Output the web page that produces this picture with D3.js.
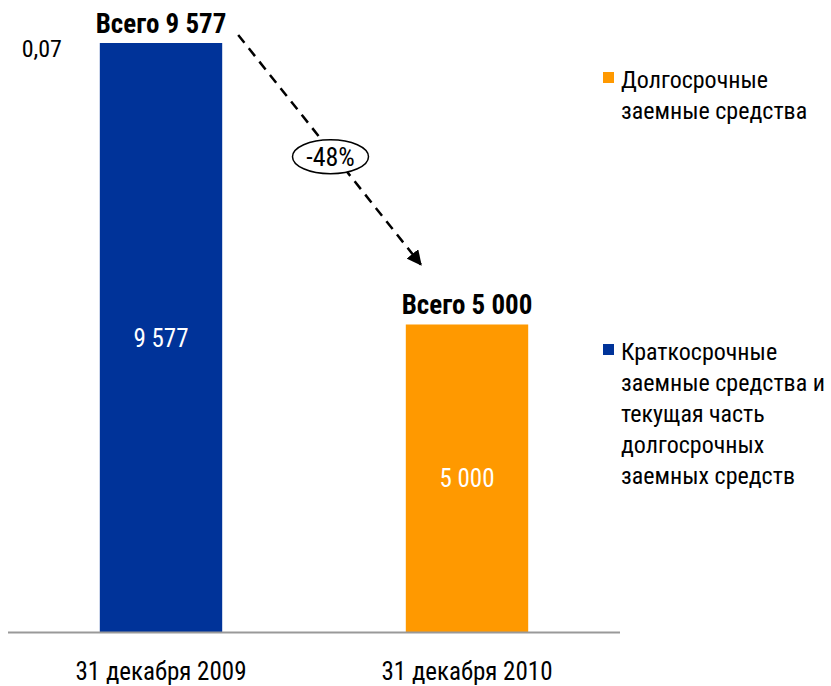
<!DOCTYPE html>
<html>
<head>
<meta charset="utf-8">
<script src="https://cdn.jsdelivr.net/npm/d3@7.9.0/dist/d3.min.js"></script>
<style>
  body { margin: 0; background: #fff; }
  svg text { font-family: "Liberation Sans Narrow", "Arial Narrow", "Roboto Condensed", "Liberation Sans", sans-serif; fill: #000; }
</style>
</head>
<body>
<svg id="chart" width="831" height="686"></svg>
<script>
const categories = ['31 декабря 2009', '31 декабря 2010'];
const shortTerm = [9577, 0];
const longTerm = [0.07, 5000];
const totalLabels = ['Всего 9 577', 'Всего 5 000'];
const shortLabels = ['9 577', null];
const longLabels = ['0,07', '5 000'];
const changeLabel = '-48%';
const legendLong = ['Долгосрочные', 'заемные средства'];
const legendShort = ['Краткосрочные', 'заемные средства и', 'текущая часть', 'долгосрочных', 'заемных средств'];

const colors = { short: '#003399', long: '#FF9900' };

const rows = categories.map((c, i) => ({ cat: c, short: shortTerm[i], long: longTerm[i] }));
const stacked = d3.stack().keys(['short', 'long'])(rows);

const svg = d3.select('#chart');
const baseY = 632;

const x = d3.scaleBand()
  .domain(categories)
  .range([8, 620])
  .paddingInner(0.6)
  .paddingOuter(0.3);

const y = d3.scaleLinear()
  .domain([0, 9577])
  .range([baseY, 43]);

// bars
stacked.forEach(layer => {
  svg.append('g')
    .selectAll('rect')
    .data(layer)
    .join('rect')
    .attr('x', d => x(d.data.cat))
    .attr('y', d => y(d[1]))
    .attr('width', x.bandwidth())
    .attr('height', d => y(d[0]) - y(d[1]))
    .attr('fill', colors[layer.key]);
});

// axis line
svg.append('line')
  .attr('x1', 8).attr('x2', 620)
  .attr('y1', baseY + 0.5).attr('y2', baseY + 0.5)
  .attr('stroke', '#999').attr('stroke-width', 2);

// category labels
svg.append('g')
  .selectAll('text')
  .data(categories)
  .join('text')
  .attr('x', d => x(d) + x.bandwidth() / 2)
  .attr('y', 680)
  .attr('text-anchor', 'middle')
  .attr('font-size', 25)
  .text(d => d);

// in-bar value labels
rows.forEach((r, i) => {
  if (shortLabels[i]) {
    svg.append('text')
      .attr('x', x(r.cat) + x.bandwidth() / 2)
      .attr('y', (y(0) + y(r.short)) / 2 + 9)
      .attr('text-anchor', 'middle')
      .attr('font-size', 25)
      .style('fill', '#fff')
      .text(shortLabels[i]);
  }
  const bottom = y(r.short);
  const top = y(r.short + r.long);
  if (bottom - top > 30) {
    svg.append('text')
      .attr('x', x(r.cat) + x.bandwidth() / 2)
      .attr('y', (bottom + top) / 2 + 9)
      .attr('text-anchor', 'middle')
      .attr('font-size', 25)
      .style('fill', '#fff')
      .text(longLabels[i]);
  } else {
    // tiny segment: label placed to the left of the bar
    svg.append('text')
      .attr('x', x(r.cat) - 58)
      .attr('y', top + 14)
      .attr('text-anchor', 'middle')
      .attr('font-size', 24)
      .text(longLabels[i]);
  }
  // totals
  svg.append('text')
    .attr('x', x(r.cat) + x.bandwidth() / 2)
    .attr('y', top - 10)
    .attr('text-anchor', 'middle')
    .attr('font-size', 27)
    .attr('font-weight', 'bold')
    .text(totalLabels[i]);
});

// dashed arrow
const defs = svg.append('defs');
defs.append('marker')
  .attr('id', 'arrow')
  .attr('viewBox', '0 0 10 10')
  .attr('refX', 9).attr('refY', 5)
  .attr('markerWidth', 6).attr('markerHeight', 6)
  .attr('orient', 'auto')
  .append('path')
  .attr('d', 'M0,0 L10,5 L0,10 Z')
  .attr('fill', '#000');

const x0 = x(categories[0]) + x.bandwidth() + 16;
const y0 = y(rows[0].short + rows[0].long) - 8;
const x1 = x(categories[1]) + 15;
const y1 = y(rows[1].short + rows[1].long) - 60;

svg.append('line')
  .attr('x1', x0).attr('y1', y0)
  .attr('x2', x1).attr('y2', y1)
  .attr('stroke', '#000')
  .attr('stroke-width', 2.5)
  .attr('stroke-dasharray', '10,7')
  .attr('marker-end', 'url(#arrow)');

const mx = (x0 + x1) / 2 + 1;
const my = (y0 + y1) / 2 + 7;
svg.append('ellipse')
  .attr('cx', mx).attr('cy', my)
  .attr('rx', 38).attr('ry', 17)
  .attr('fill', '#fff')
  .attr('stroke', '#000')
  .attr('stroke-width', 1.5);
svg.append('text')
  .attr('x', mx).attr('y', my + 9)
  .attr('text-anchor', 'middle')
  .attr('font-size', 26)
  .text(changeLabel);

// legend
function legend(lines, color, top) {
  const g = svg.append('g').attr('transform', `translate(603,${top})`);
  g.append('rect').attr('width', 11).attr('height', 11).attr('y', 0).attr('fill', color);
  g.selectAll('text')
    .data(lines)
    .join('text')
    .attr('x', 18)
    .attr('y', (d, i) => 16 + i * 31)
    .attr('font-size', 24)
    .text(d => d);
}
legend(legendLong, colors.long, 72);
legend(legendShort, colors.short, 344);
</script>
</body>
</html>
